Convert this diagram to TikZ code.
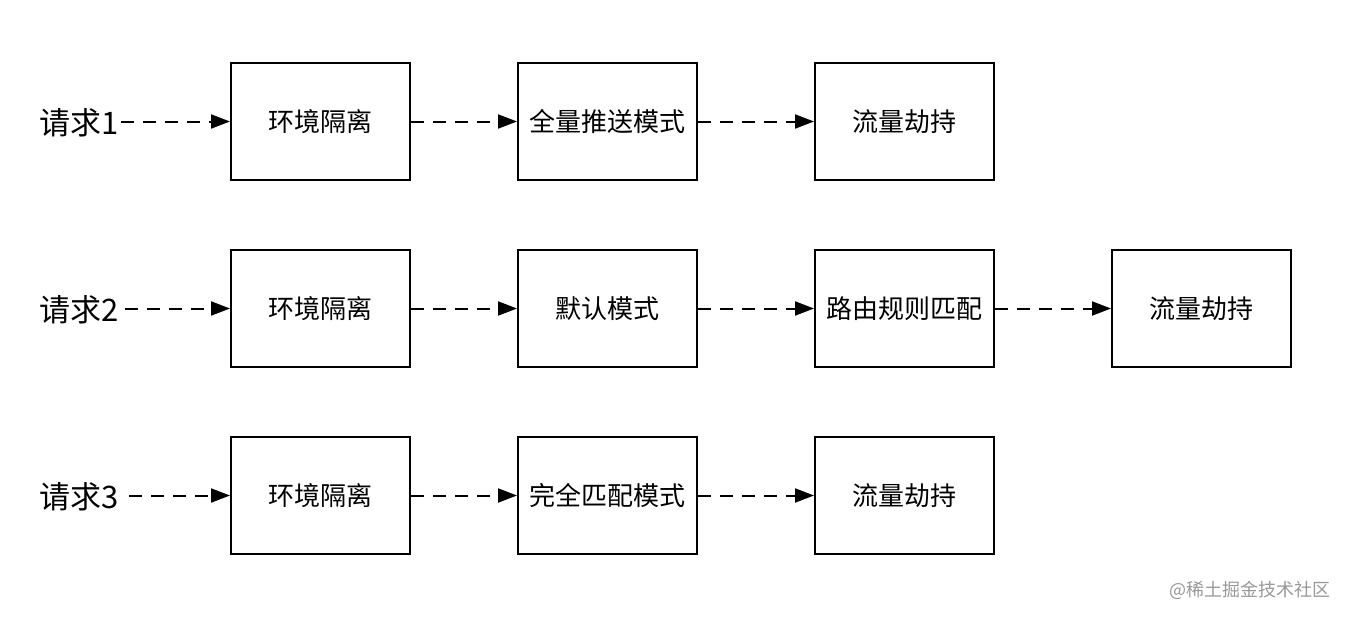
\documentclass[tikz,border=0pt]{standalone}
\usepackage{fontspec}
\newfontfamily\cjk{Noto Sans CJK SC}
\usetikzlibrary{arrows.meta}
\begin{document}
\begin{tikzpicture}[x=1pt,y=-1pt,
  stepbox/.style={draw,line width=2pt,minimum width=179pt,minimum height=117pt,inner sep=0pt,font=\cjk\fontsize{26}{30}\selectfont},
  reqlabel/.style={inner sep=0pt,anchor=east,font=\cjk\fontsize{31}{36}\selectfont},
  flow/.style={line width=2pt,dash pattern=on 13pt off 9pt,-{Triangle[length=19pt,width=14pt]}}]
\useasboundingbox (0,0) rectangle (1348,618);
\fill[white] (0,0) rectangle (1348,618);
% row 1
\node[reqlabel] (r1) at (119,123) {请求1};
\node[stepbox] (a1) at (320.5,121.5) {环境隔离};
\node[stepbox] (b1) at (607.5,121.5) {全量推送模式};
\node[stepbox] (c1) at (904.5,121.5) {流量劫持};
\draw[flow] (r1.east |- a1.west) ++(2,0) coordinate (s1) -- (a1.west);
\draw[flow] (a1) -- (b1);
\draw[flow] (b1) -- (c1);
% row 2
\node[reqlabel] (r2) at (119,310) {请求2};
\node[stepbox] (a2) at (320.5,308.5) {环境隔离};
\node[stepbox] (b2) at (607.5,308.5) {默认模式};
\node[stepbox] (c2) at (904.5,308.5) {路由规则匹配};
\node[stepbox] (d2) at (1201.5,308.5) {流量劫持};
\draw[flow] (r2.east |- a2.west) ++(6,0) coordinate (s2) -- (a2.west);
\draw[flow] (a2) -- (b2);
\draw[flow] (b2) -- (c2);
\draw[flow] (c2) -- (d2);
% row 3
\node[reqlabel] (r3) at (119,497) {请求3};
\node[stepbox] (a3) at (320.5,495.5) {环境隔离};
\node[stepbox] (b3) at (607.5,495.5) {完全匹配模式};
\node[stepbox] (c3) at (904.5,495.5) {流量劫持};
\draw[flow] (r3.east |- a3.west) ++(10,0) coordinate (s3) -- (a3.west);
\draw[flow] (a3) -- (b3);
\draw[flow] (b3) -- (c3);
% watermark
\node[anchor=east,inner sep=0pt,text=black!40,font=\cjk\fontsize{18}{21}\selectfont] (wm) at (1331,590) {@稀土掘金技术社区};
\end{tikzpicture}
\end{document}
